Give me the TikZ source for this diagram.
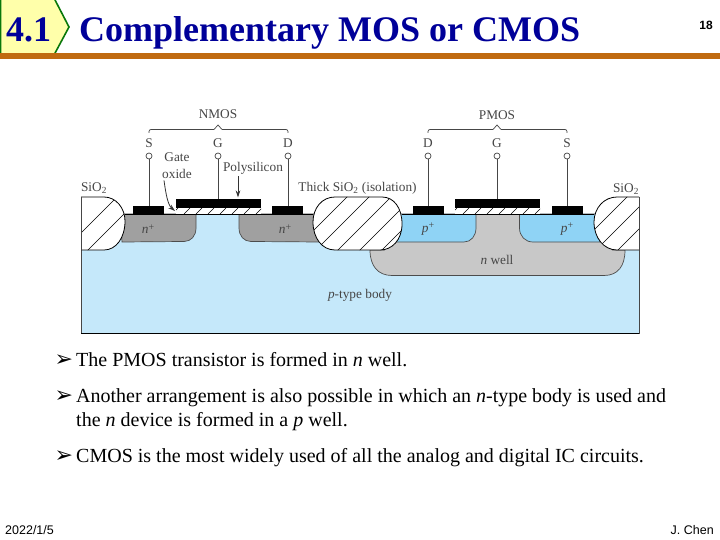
\documentclass[tikz,border=0pt]{standalone}
\usepackage{fontspec}
\setmainfont{Liberation Serif}
\newfontfamily\arialf{Liberation Sans}
\newfontfamily\arrowf{DejaVu Sans}
\usetikzlibrary{arrows.meta}
\definecolor{titleblue}{RGB}{0,0,153}
\definecolor{tagfill}{RGB}{255,255,170}
\definecolor{taggreen}{RGB}{10,120,10}
\definecolor{barorange}{RGB}{192,106,16}
\definecolor{bodyblue}{RGB}{197,232,250}
\definecolor{pblue}{RGB}{143,211,245}
\definecolor{ngray}{RGB}{160,160,160}
\definecolor{wellgray}{RGB}{200,200,200}
\definecolor{figtext}{RGB}{70,70,70}
\newcommand{\plusup}{\raisebox{3.5pt}{\fontsize{10}{10}\selectfont +}}
\tikzset{
  x=1pt,y=-1pt,
  contact/.style={draw=none,fill=black,inner sep=0pt,minimum width=31pt,minimum height=8pt},
  gatebar/.style={draw=none,fill=black,inner sep=0pt,minimum width=85pt,minimum height=9.5pt},
  term/.style={circle,draw=figtext,fill=white,line width=.7pt,inner sep=0pt,minimum size=6pt},
  wire/.style={draw=figtext,line width=.9pt},
  brace/.style={draw=figtext,line width=.7pt,rounded corners=2pt},
  lab/.style={font=\fontsize{13.3}{15}\selectfont,text=figtext,inner sep=0pt},
  bul/.style={font=\fontsize{20}{24}\selectfont,text=black,anchor=base west,inner sep=0pt},
  hatchl/.style={draw=black,line width=.6pt},
  callout/.style={draw=black!80,line width=.8pt,-{Stealth[length=7pt,width=4.5pt]}},
}
\newcommand{\oxleft}{(81,197) -- (104,197) .. controls (116,197) and (125,208) .. (125,221) .. controls (125,238) and (116,250) .. (104,250) -- (81,250)}
\newcommand{\oxmid}{(335,197) -- (382,197) .. controls (394,197) and (402,208) .. (402,224) .. controls (402,240) and (392,250) .. (380,250) -- (335,250) .. controls (322,250) and (313,238) .. (313,222) .. controls (313,208) and (322,197) .. (335,197) -- cycle}
\newcommand{\oxright}{(639,197) -- (617,197) .. controls (604,197) and (594,208) .. (594,222) .. controls (594,238) and (604,250) .. (617,250) -- (639,250)}
\begin{document}
\begin{tikzpicture}
\useasboundingbox (0,0) rectangle (720,540);
\fill[white] (0,0) rectangle (720,540);
% header
\filldraw[fill=tagfill,draw=taggreen,line width=1.6pt] (0.5,-2) -- (54,-2) -- (69,27) -- (54,55) -- (0.5,55) -- cycle;
\fill[barorange] (0,53) rectangle (720,59);
\node[font=\bfseries\fontsize{36}{40}\selectfont,text=titleblue,anchor=base,inner sep=0pt] (tag) at (28.5,42) {4.1};
\node[font=\bfseries\fontsize{36}{40}\selectfont,text=titleblue,anchor=base west,inner sep=0pt] (title) at (79,42) {Complementary MOS or CMOS};
\node[font=\arialf\bfseries\fontsize{12}{14}\selectfont,inner sep=0pt] (page) at (706,25) {18};
% substrate
\filldraw[fill=bodyblue,draw=figtext,line width=.5pt] (81,214) rectangle (639,333.5);
\draw[black,line width=.9pt] (81,333.5) -- (639,333.5);
% n well
\filldraw[fill=wellgray,draw=black!70,line width=.7pt] (370,250) .. controls (370,266) and (378,275.5) .. (392,275.5) -- (604,275.5) .. controls (618,275.5) and (625,266) .. (625,250) -- cycle;
\fill[wellgray] (385,214) rectangle (612,251);
% diffusions
\filldraw[fill=ngray,draw=black!70,line width=.7pt] (120,214) -- (196,214) -- (196,228) .. controls (196,236) and (191,241.5) .. (184,241.5) -- (122,242) -- cycle;
\filldraw[fill=ngray,draw=black!70,line width=.7pt] (320,214) -- (239,214) -- (239,228) .. controls (239,236) and (244,241.5) .. (251,241.5) -- (320,242) -- cycle;
\filldraw[fill=pblue,draw=black!70,line width=.7pt] (396,214) -- (476,214) -- (476,228) .. controls (476,236) and (471,242) .. (464,242) -- (396,242) -- cycle;
\filldraw[fill=pblue,draw=black!70,line width=.7pt] (600,214) -- (519.5,214) -- (519.5,228) .. controls (519.5,236) and (525,242) .. (533,242) -- (600,242) -- cycle;
% field oxide
\filldraw[fill=white,draw=black,line width=.8pt] \oxleft;
\begin{scope}
\clip \oxleft -- cycle;
\foreach \k in {60,84,108,132,156,180} \draw[hatchl] (\k,254) -- (\k+60,194);
\end{scope}
\filldraw[fill=white,draw=black,line width=.8pt] \oxmid;
\begin{scope}
\clip \oxmid;
\foreach \k in {290,312,334,356,378} \draw[hatchl] (\k,254) -- (\k+60,194);
\end{scope}
\filldraw[fill=white,draw=black,line width=.8pt] \oxright;
\begin{scope}
\clip \oxright -- cycle;
\foreach \k in {570,592,614,636} \draw[hatchl] (\k,254) -- (\k+60,194);
\end{scope}
\draw[draw=figtext,line width=.6pt] (639,197) -- (639,250);
\draw[draw=figtext,line width=.6pt] (81,197) -- (81,250);
% gate oxides
\fill[white] (176,208) rectangle (261,214);
\fill[white] (455,208) rectangle (540,214);
\begin{scope}
\clip (176,208) rectangle (261,214);
\foreach \k in {172,184,...,268} \draw[hatchl] (\k,214) -- (\k+6,208);
\end{scope}
\begin{scope}
\clip (455,208) rectangle (540,214);
\foreach \k in {451,463,...,547} \draw[hatchl] (\k,214) -- (\k+6,208);
\end{scope}
\draw[black,line width=.9pt] (125,214) -- (313,214);
\draw[black,line width=.9pt] (402,214) -- (594,214);
% contacts and gates
\node[contact] (cs1) at (148.5,210) {};
\node[contact] (cd1) at (287.5,210) {};
\node[gatebar] (cg1) at (218.5,203.7) {};
\node[contact] (cd2) at (428.5,210) {};
\node[contact] (cs2) at (567,210) {};
\node[gatebar] (cg2) at (497.5,203.7) {};
% terminals
\node[term] (ts1) at (149,156) {};
\node[term] (tg1) at (218,156) {};
\node[term] (td1) at (288,156) {};
\node[term] (td2) at (428,156) {};
\node[term] (tg2) at (497,156) {};
\node[term] (ts2) at (567,156) {};
\draw[wire] (ts1.south) -- (ts1.south |- cs1.north);
\draw[wire] (tg1.south) -- (tg1.south |- cg1.north);
\draw[wire] (td1.south) -- (td1.south |- cd1.north);
\draw[wire] (td2.south) -- (td2.south |- cd2.north);
\draw[wire] (tg2.south) -- (tg2.south |- cg2.north);
\draw[wire] (ts2.south) -- (ts2.south |- cs2.north);
% letters
\node[lab] (ls1) at (149,143) {S};
\node[lab] (lg1) at (218,143) {G};
\node[lab] (ld1) at (288,143) {D};
\node[lab] (ld2) at (428,143) {D};
\node[lab] (lg2) at (497,143) {G};
\node[lab] (ls2) at (567,143) {S};
% braces
\node[lab] (nmos) at (218,114) {NMOS};
\node[lab] (pmos) at (497,115) {PMOS};
\coordinate (nb) at (218,125);
\coordinate (pb) at (497,125);
\draw[brace] (149,133) |- (214,129.5);
\draw[draw=figtext,line width=.7pt] (214,129.5) -- (nb) -- (222,129.5);
\draw[brace] (288,133) |- (222,129.5);
\draw[brace] (428,133) |- (493,129.5);
\draw[draw=figtext,line width=.7pt] (493,129.5) -- (pb) -- (501,129.5);
\draw[brace] (567,133) |- (501,129.5);
% labels
\node[lab,align=center] (goxide) at (177,165.5) {Gate\\[1.5pt]oxide};
\node[lab] (poly) at (253,168) {Polysilicon};
\node[lab] (sio1) at (94,188) {SiO\textsubscript{2}};
\node[lab] (sio2) at (357.5,188) {Thick SiO\textsubscript{2} (isolation)};
\node[lab] (sio3) at (626,189) {SiO\textsubscript{2}};
\coordinate (polyarrow) at (238,197.5);
\coordinate (oxarrow) at (175,211);
\draw[callout] (poly.south -| polyarrow) ++(0,2) -- (polyarrow);
\draw[callout] (goxide.south) ++(-13,2) .. controls (166,195) and (168,205) .. (oxarrow);
\node[lab] (np1) at (148,229) {\textit{n}\plusup};
\node[lab] (np2) at (285,229) {\textit{n}\plusup};
\node[lab] (pp1) at (428,229) {\textit{p}\plusup};
\node[lab] (pp2) at (567,229) {\textit{p}\plusup};
\node[lab] (nwell) at (497,260) {\textit{n} well};
\node[lab] (pbody) at (360,295) {\textit{p}-type body};
% bullets
\node[bul] (b1a) at (54.5,366) {{\arrowf\fontsize{22}{22}\selectfont ➢}};
\node[bul] (b1) at (76,366) {The PMOS transistor is formed in \textit{n} well.};
\node[bul] (b2a) at (54.5,402) {{\arrowf\fontsize{22}{22}\selectfont ➢}};
\node[bul] (b2) at (76,402) {Another arrangement is also possible in which an \textit{n}-type body is used and};
\node[bul] (b2b) at (76,426) {the \textit{n} device is formed in a \textit{p} well.};
\node[bul] (b3a) at (54.5,462) {{\arrowf\fontsize{22}{22}\selectfont ➢}};
\node[bul] (b3) at (76,462) {CMOS is the most widely used of all the analog and digital IC circuits.};
% footer
\node[font=\arialf\fontsize{12.5}{14}\selectfont,anchor=base west,inner sep=0pt] (date) at (5,534) {2022/1/5};
\node[font=\arialf\fontsize{12.5}{14}\selectfont,anchor=base east,inner sep=0pt] (auth) at (714,534) {J. Chen};
\end{tikzpicture}
\end{document}
